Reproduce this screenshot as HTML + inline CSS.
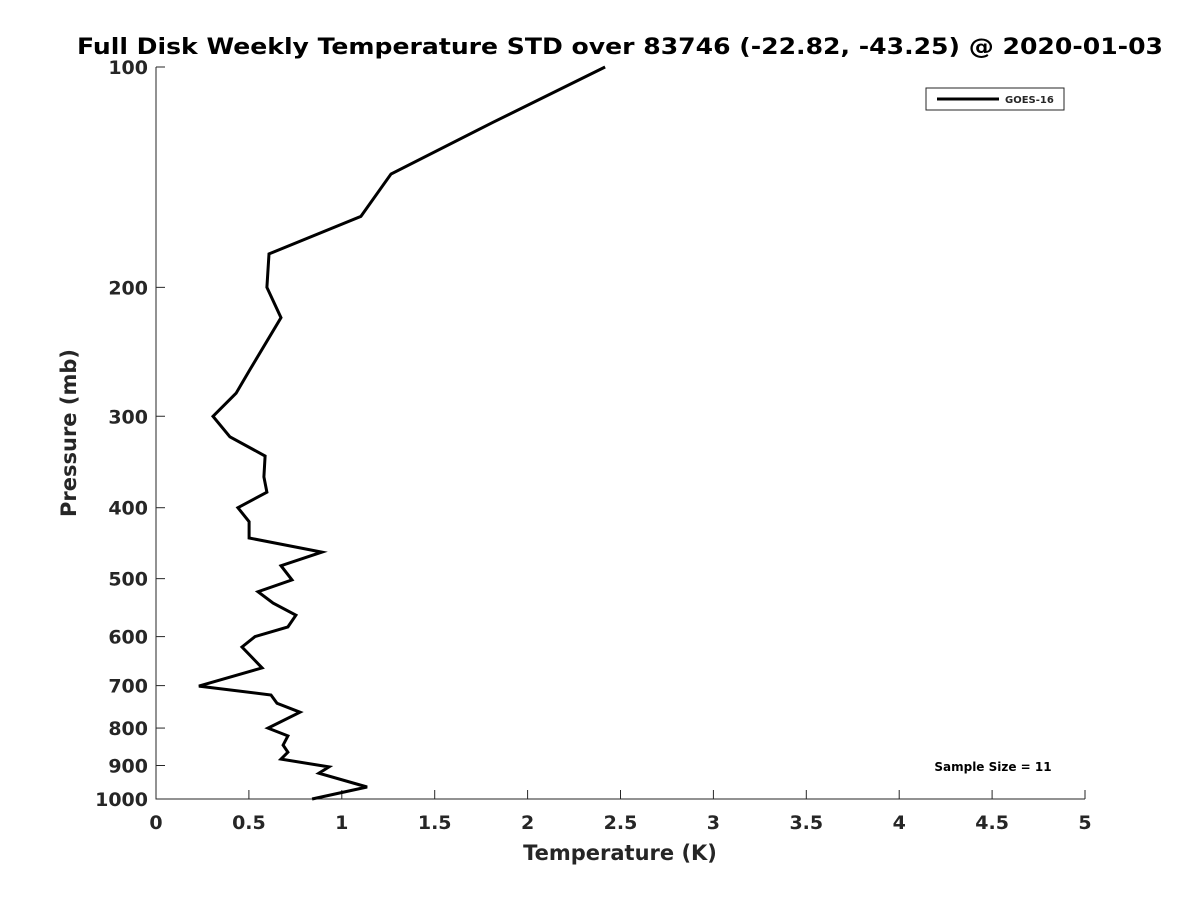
<!DOCTYPE html>
<html><head><meta charset="utf-8"><style>
body{margin:0;background:#fff;}
svg text{font-family:"DejaVu Sans","Liberation Sans",sans-serif;font-weight:bold;fill:#262626;}
</style></head><body>
<svg id="chart" width="1200" height="900" viewBox="0 0 1200 900" xmlns="http://www.w3.org/2000/svg">
<rect width="1200" height="900" fill="#fff"/>
<text x="620" y="54" font-size="22" text-anchor="middle" textLength="1086" lengthAdjust="spacingAndGlyphs" style="fill:#000">Full Disk Weekly Temperature STD over 83746 (-22.82, -43.25) @ 2020-01-03</text>
<g id="axes"></g>
<text x="620" y="860" font-size="21" text-anchor="middle">Temperature (K)</text>
<text transform="translate(76,433) rotate(-90)" font-size="21" text-anchor="middle">Pressure (mb)</text>
<g>
<rect x="926" y="88" width="138" height="22" fill="#fff" stroke="#262626" stroke-width="1"/>
<line x1="937" y1="99" x2="999" y2="99" stroke="#000" stroke-width="3"/>
<text x="1005" y="103" font-size="10">GOES-16</text>
</g>
<text x="993" y="771" font-size="12" text-anchor="middle" style="fill:#000">Sample Size = 11</text>
</svg>
<script>
const temps=[2.417,1.814,1.265,1.103,0.608,0.597,0.673,0.506,0.431,0.307,0.398,0.587,0.581,0.597,0.441,0.501,0.501,0.893,0.673,0.732,0.549,0.630,0.753,0.710,0.533,0.463,0.571,0.231,0.619,0.651,0.775,0.603,0.710,0.684,0.710,0.673,0.931,0.877,1.136,0.840];
const pressures=[100,119,140,160,180,200,220,259,279,300,320,340,363,381,400,418,440,460,480,502,521,540,561,582,600,620,662,701,721,740,761,800,820,844,863,882,904,922,963,1000];
const xTicks=[0,0.5,1,1.5,2,2.5,3,3.5,4,4.5,5];
const xTickLabels=["0","0.5","1","1.5","2","2.5","3","3.5","4","4.5","5"];
const yTicks=[100,200,300,400,500,600,700,800,900,1000];
const X0=156,X1=1085,Y0=67,Y1=799;
const xs=v=>X0+(v/5)*(X1-X0);
const ys=p=>Y0+Math.log10(p/100)*(Y1-Y0);
const NS="http://www.w3.org/2000/svg";
const g=document.getElementById('axes');
function mk(t,a){const e=document.createElementNS(NS,t);for(const k in a)e.setAttribute(k,a[k]);g.appendChild(e);return e;}
const ax=mk('path',{d:`M${X0},${Y0} L${X0},${Y1} L${X1},${Y1}`,fill:'none',stroke:'#262626','stroke-width':1});


xTicks.forEach((v,i)=>{
 const x=xs(v);
 const t=mk('line',{x1:x,y1:Y1,x2:x,y2:Y1-9,stroke:'#262626'});
 
 
 const l=mk('text',{x:x,y:Y1+30,'font-size':19,'text-anchor':'middle'});
 l.textContent=xTickLabels[i];
 
 
});
yTicks.forEach(p=>{
 const y=ys(p);
 const t=mk('line',{x1:X0,y1:y,x2:X0+9,y2:y,stroke:'#262626'});
 
 
 const l=mk('text',{x:X0-8,y:y+7,'font-size':19,'text-anchor':'end'});
 l.textContent=String(p);
 
 
});
const pts=temps.map((v,i)=>xs(v).toFixed(1)+','+ys(pressures[i]).toFixed(1)).join(' ');
const line=mk('polyline',{points:pts,fill:'none',stroke:'#000','stroke-width':3,'stroke-linejoin':'miter'});


</script>
</body></html>
